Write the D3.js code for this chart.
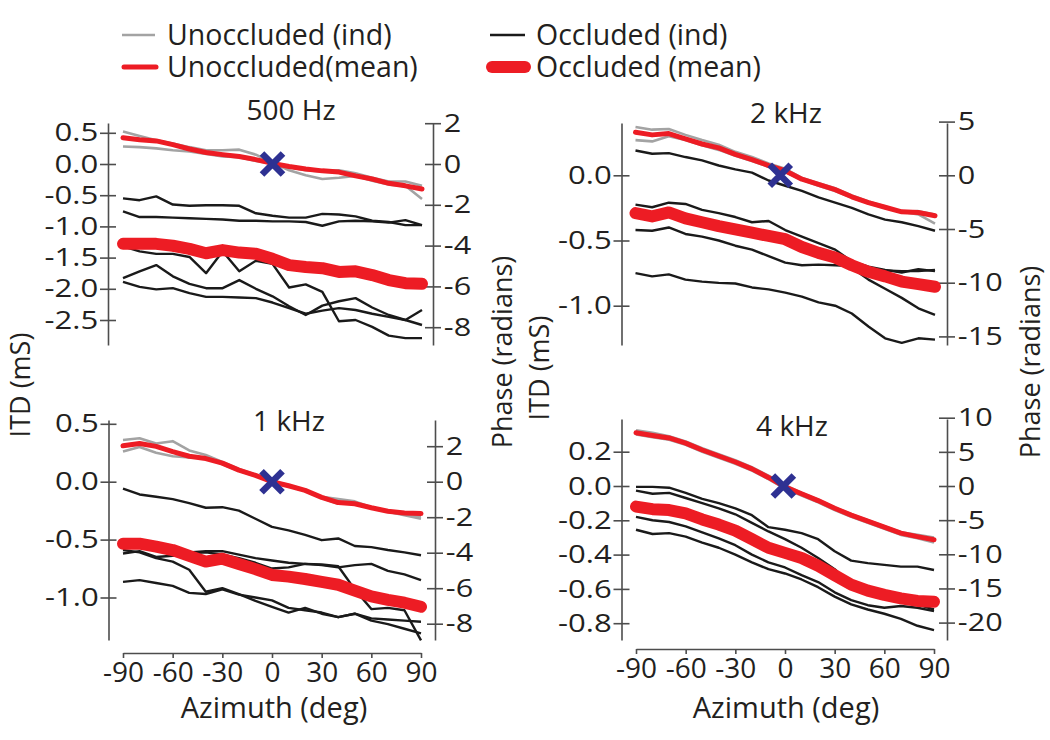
<!DOCTYPE html>
<html>
<head>
<meta charset="utf-8">
<script src="https://cdn.jsdelivr.net/npm/d3@7"></script>
<style>
  body { margin: 0; background: #fff; }
  text { font-family: "Open Sans", sans-serif; fill: #231f20; }
</style>
</head>
<body>
<div id="chart"></div>
<script>
// azimuth samples (deg) shared by every trace
const azimuth = [-90, -80, -70, -60, -50, -40, -30, -20, -10, 0, 10, 20, 30, 40, 50, 60, 70, 80, 90];
const xTicks = [-90, -60, -30, 0, 30, 60, 90];

// ---- 500 Hz (ITD, ms)
const unoccInd500 = [
  [0.52, 0.45, 0.38, 0.33, 0.27, 0.22, 0.22, 0.23, 0.15, 0.02, -0.10, -0.18, -0.24, -0.22, -0.19, -0.27, -0.33, -0.35, -0.56],
  [0.28, 0.27, 0.25, 0.22, 0.20, 0.16, 0.12, 0.11, 0.05, 0.01, -0.05, -0.10, -0.12, -0.10, -0.15, -0.22, -0.28, -0.28, -0.35]
];
const unoccMean500 = [0.42, 0.39, 0.37, 0.31, 0.24, 0.185, 0.15, 0.12, 0.07, 0.01, -0.04, -0.08, -0.11, -0.13, -0.19, -0.24, -0.31, -0.35, -0.40];
const occInd500 = [
  [-0.55, -0.58, -0.52, -0.65, -0.67, -0.66, -0.66, -0.67, -0.79, -0.83, -0.86, -0.86, -0.80, -0.81, -0.84, -0.91, -0.93, -0.98, -0.98],
  [-0.76, -0.85, -0.85, -0.86, -0.87, -0.88, -0.89, -0.91, -0.91, -0.92, -0.92, -0.93, -0.99, -0.92, -0.91, -0.92, -0.94, -0.90, -0.98],
  [-1.32, -1.40, -1.44, -1.44, -1.49, -1.75, -1.40, -1.72, -1.55, -1.60, -1.98, -1.93, -2.05, -2.52, -2.50, -2.61, -2.75, -2.79, -2.79],
  [-1.83, -1.72, -1.62, -1.80, -1.92, -1.99, -1.99, -1.86, -2.00, -2.12, -2.28, -2.42, -2.27, -2.20, -2.15, -2.30, -2.42, -2.50, -2.58],
  [-1.89, -1.97, -2.01, -1.99, -2.07, -2.13, -2.13, -2.14, -2.15, -2.22, -2.31, -2.40, -2.35, -2.31, -2.34, -2.40, -2.45, -2.50, -2.34]
];
const occMean500 = [-1.28, -1.28, -1.28, -1.31, -1.36, -1.43, -1.38, -1.42, -1.44, -1.52, -1.62, -1.65, -1.67, -1.73, -1.72, -1.78, -1.86, -1.91, -1.92];
const itdTicks500 = [0.5, 0, -0.5, -1, -1.5, -2, -2.5];
const phaseTicks500 = [2, 0, -2, -4, -6, -8];

// ---- 2 kHz
const unoccInd2k = [
  [0.37, 0.35, 0.355, 0.31, 0.27, 0.235, 0.18, 0.14, 0.09, 0.05, -0.02, -0.06, -0.10, -0.155, -0.20, -0.24, -0.28, -0.30, -0.37],
  [0.27, 0.26, 0.30, 0.27, 0.23, 0.195, 0.15, 0.11, 0.065, 0.025, -0.035, -0.08, -0.12, -0.17, -0.215, -0.25, -0.28, -0.275, -0.30]
];
const unoccMean2k = [0.33, 0.31, 0.32, 0.28, 0.24, 0.21, 0.16, 0.12, 0.075, 0.035, -0.03, -0.07, -0.11, -0.165, -0.21, -0.245, -0.28, -0.285, -0.31];
const occInd2k = [
  [0.19, 0.165, 0.17, 0.14, 0.115, 0.075, 0.045, 0.02, -0.04, -0.08, -0.12, -0.17, -0.21, -0.25, -0.30, -0.34, -0.36, -0.39, -0.425],
  [-0.225, -0.245, -0.21, -0.22, -0.265, -0.29, -0.32, -0.36, -0.35, -0.42, -0.47, -0.52, -0.57, -0.66, -0.70, -0.725, -0.745, -0.72, -0.735],
  [-0.42, -0.425, -0.40, -0.45, -0.47, -0.50, -0.54, -0.57, -0.62, -0.67, -0.69, -0.685, -0.69, -0.695, -0.71, -0.73, -0.735, -0.735, -0.725],
  [-0.28, -0.32, -0.28, -0.34, -0.36, -0.38, -0.42, -0.45, -0.46, -0.50, -0.55, -0.60, -0.64, -0.71, -0.80, -0.87, -0.94, -1.02, -1.07],
  [-0.75, -0.775, -0.76, -0.80, -0.815, -0.825, -0.83, -0.86, -0.875, -0.90, -0.93, -0.975, -1.00, -1.06, -1.16, -1.25, -1.285, -1.25, -1.26]
];
const occMean2k = [-0.29, -0.315, -0.285, -0.33, -0.36, -0.39, -0.415, -0.44, -0.465, -0.49, -0.55, -0.595, -0.63, -0.69, -0.74, -0.775, -0.815, -0.835, -0.855];
const itdTicks2k = [0, -0.5, -1];
const phaseTicks2k = [5, 0, -5, -10, -15];

// ---- 1 kHz
const unoccInd1k = [
  [0.36, 0.375, 0.33, 0.35, 0.27, 0.23, 0.17, 0.11, 0.06, 0.005, -0.03, -0.075, -0.13, -0.15, -0.17, -0.22, -0.26, -0.29, -0.32],
  [0.26, 0.30, 0.25, 0.22, 0.21, 0.21, 0.15, 0.095, 0.05, -0.005, -0.04, -0.08, -0.14, -0.19, -0.18, -0.23, -0.26, -0.28, -0.30]
];
const unoccMean1k = [0.31, 0.33, 0.305, 0.26, 0.22, 0.20, 0.16, 0.10, 0.055, 0.0, -0.035, -0.075, -0.135, -0.18, -0.19, -0.225, -0.255, -0.27, -0.275];
const occInd1k = [
  [-0.06, -0.11, -0.13, -0.15, -0.185, -0.225, -0.22, -0.25, -0.32, -0.39, -0.42, -0.46, -0.505, -0.49, -0.555, -0.565, -0.59, -0.61, -0.635],
  [-0.54, -0.56, -0.58, -0.60, -0.61, -0.60, -0.60, -0.63, -0.66, -0.68, -0.70, -0.71, -0.72, -0.74, -0.72, -0.71, -0.77, -0.80, -0.85],
  [-0.59, -0.61, -0.66, -0.69, -0.76, -0.95, -0.92, -0.97, -1.03, -1.08, -1.13, -1.09, -1.14, -1.17, -1.14, -1.20, -1.23, -1.27, -1.31],
  [-0.62, -0.60, -0.65, -0.64, -0.62, -0.61, -0.63, -0.66, -0.70, -0.75, -0.74, -0.71, -0.715, -0.73, -0.93, -1.10, -1.09, -1.11, -1.37],
  [-0.865, -0.85, -0.875, -0.90, -0.96, -0.97, -0.93, -0.975, -1.00, -1.025, -1.09, -1.11, -1.13, -1.17, -1.14, -1.18, -1.19, -1.20, -1.21]
];
const occMean1k = [-0.535, -0.535, -0.56, -0.59, -0.64, -0.69, -0.665, -0.71, -0.755, -0.805, -0.82, -0.84, -0.865, -0.89, -0.94, -0.99, -1.02, -1.045, -1.08];
const itdTicks1k = [0.5, 0, -0.5, -1];
const phaseTicks1k = [2, 0, -2, -4, -6, -8];

// ---- 4 kHz
const unoccInd4k = [
  [0.325, 0.31, 0.29, 0.26, 0.22, 0.185, 0.15, 0.11, 0.06, 0.005, -0.04, -0.08, -0.125, -0.165, -0.20, -0.235, -0.27, -0.285, -0.30],
  [0.30, 0.285, 0.27, 0.24, 0.20, 0.165, 0.13, 0.09, 0.04, -0.015, -0.055, -0.095, -0.14, -0.18, -0.215, -0.25, -0.285, -0.305, -0.33]
];
const unoccMean4k = [0.31, 0.295, 0.28, 0.25, 0.21, 0.175, 0.14, 0.10, 0.05, -0.005, -0.045, -0.085, -0.13, -0.17, -0.205, -0.24, -0.275, -0.295, -0.313];
const occInd4k = [
  [-0.005, -0.005, -0.01, -0.04, -0.075, -0.10, -0.13, -0.17, -0.24, -0.255, -0.275, -0.31, -0.38, -0.435, -0.45, -0.46, -0.47, -0.47, -0.49],
  [-0.027, -0.045, -0.04, -0.07, -0.10, -0.13, -0.165, -0.215, -0.265, -0.31, -0.36, -0.42, -0.485, -0.575, -0.62, -0.645, -0.67, -0.69, -0.72],
  [-0.18, -0.20, -0.21, -0.235, -0.27, -0.305, -0.345, -0.40, -0.445, -0.475, -0.52, -0.56, -0.62, -0.665, -0.695, -0.71, -0.70, -0.71, -0.73],
  [-0.255, -0.28, -0.275, -0.295, -0.33, -0.36, -0.40, -0.445, -0.485, -0.51, -0.545, -0.59, -0.645, -0.69, -0.72, -0.745, -0.775, -0.815, -0.84]
];
const occMean4k = [-0.12, -0.135, -0.14, -0.16, -0.195, -0.225, -0.26, -0.31, -0.36, -0.39, -0.42, -0.465, -0.52, -0.575, -0.61, -0.635, -0.655, -0.67, -0.675];
const itdTicks4k = [0.2, 0, -0.2, -0.4, -0.6, -0.8];
const phaseTicks4k = [10, 5, 0, -5, -10, -15, -20];

// reference point (azimuth, ITD) marked with a cross
const crossPoints = [[0, 0], [-3, 0], [0, 0], [-1, 0]];

const legendLabels = ["Unoccluded (ind)", "Occluded (ind)", "Unoccluded(mean)", "Occluded (mean)"];

const colors = { gray: "#a3a3a3", black: "#1a1a1a", red: "#ed1c24", blue: "#2e3192", axis: "#4d4d4d" };

// pixel layout of the four panels
const panels = [
  { title: "500 Hz", unoccInd: unoccInd500, unoccMean: unoccMean500, occInd: occInd500, occMean: occMean500,
    itdTicks: itdTicks500, phaseTicks: phaseTicks500, cross: crossPoints[0],
    x0: 123, x1: 422, leftX: 108, rightX: 433, top: 123, bottom: 345, zeroY: 164, itdPx: 62.4, phasePx: 20.4,
    titleX: 291, titleY: 120, xAxisY: null },
  { title: "2 kHz", unoccInd: unoccInd2k, unoccMean: unoccMean2k, occInd: occInd2k, occMean: occMean2k,
    itdTicks: itdTicks2k, phaseTicks: phaseTicks2k, cross: crossPoints[1],
    x0: 635.5, x1: 935, leftX: 621.5, rightX: 947, top: 123, bottom: 345, zeroY: 175.3, itdPx: 130.4, phasePx: 10.74,
    titleX: 786, titleY: 123, xAxisY: null },
  { title: "1 kHz", unoccInd: unoccInd1k, unoccMean: unoccMean1k, occInd: occInd1k, occMean: occMean1k,
    itdTicks: itdTicks1k, phaseTicks: phaseTicks1k, cross: crossPoints[2],
    x0: 123, x1: 421, leftX: 108.5, rightX: 435, top: 420, bottom: 640, zeroY: 481.7, itdPx: 115.8, phasePx: 17.75,
    titleX: 289, titleY: 431, xAxisY: 653, xLabelX: 274 },
  { title: "4 kHz", unoccInd: unoccInd4k, unoccMean: unoccMean4k, occInd: occInd4k, occMean: occMean4k,
    itdTicks: itdTicks4k, phaseTicks: phaseTicks4k, cross: crossPoints[3],
    x0: 636, x1: 934, leftX: 621.5, rightX: 947, top: 419, bottom: 640, zeroY: 486, itdPx: 171.5, phasePx: 6.83,
    titleX: 792, titleY: 436, xAxisY: 649, xLabelX: 786 }
];

const width = 1050, height = 740;
const svg = d3.select("#chart").append("svg").attr("width", width).attr("height", height);

function styleAxis(g, size) {
  g.attr("font-family", null).attr("font-size", size).attr("color", colors.axis);
  g.select(".domain").attr("stroke-width", 1.6);
  g.selectAll(".tick line").attr("stroke-width", 1.6);
  g.selectAll(".tick text").style("fill", "#231f20");
}

panels.forEach((p) => {
  const x = d3.scaleLinear().domain([-90, 90]).range([p.x0, p.x1]);
  const yItd = d3.scaleLinear()
    .domain([(p.zeroY - p.bottom) / p.itdPx, (p.zeroY - p.top) / p.itdPx])
    .range([p.bottom, p.top]);
  const yPhase = d3.scaleLinear()
    .domain([(p.zeroY - p.bottom) / p.phasePx, (p.zeroY - p.top) / p.phasePx])
    .range([p.bottom, p.top]);

  // left ITD axis, ticks crossing the line
  const gl = svg.append("g")
    .attr("transform", `translate(${p.leftX},0)`)
    .call(d3.axisLeft(yItd).tickValues(p.itdTicks).tickSize(8).tickSizeOuter(0).tickPadding(0)
      .tickFormat((d) => d.toFixed(1)));
  styleAxis(gl, 25.5);
  gl.selectAll(".tick line").attr("x1", 8);
  gl.selectAll(".tick text").attr("transform", "scale(1.22,1)");

  // right phase axis
  const gr = svg.append("g")
    .attr("transform", `translate(${p.rightX},0)`)
    .call(d3.axisRight(yPhase).tickValues(p.phaseTicks).tickSize(8).tickSizeOuter(0).tickPadding(1)
      .tickFormat((d) => String(d)));
  styleAxis(gr, 25.5);
  gr.selectAll(".tick line").attr("x1", -8);
  gr.selectAll(".tick text").attr("transform", "scale(1.2,1)");

  // bottom azimuth axis (lower panels only)
  if (p.xAxisY) {
    const gb = svg.append("g")
      .attr("transform", `translate(0,${p.xAxisY})`)
      .call(d3.axisBottom(x).tickValues(xTicks).tickSize(5).tickSizeOuter(0).tickPadding(4)
        .tickFormat((d) => String(d)));
    styleAxis(gb, 28);

    svg.append("text")
      .attr("x", p.xLabelX)
      .attr("y", 718)
      .attr("text-anchor", "middle")
      .attr("font-size", 29)
      .text("Azimuth (deg)");
  }

  const line = d3.line()
    .x((d, i) => x(azimuth[i]))
    .y((d) => yItd(d));

  const plot = svg.append("g");

  plot.selectAll(".unocc-ind")
    .data(p.unoccInd)
    .enter()
    .append("path")
    .attr("class", "unocc-ind")
    .attr("d", line)
    .attr("fill", "none")
    .attr("stroke", colors.gray)
    .attr("stroke-width", 2.6)
    .attr("stroke-linejoin", "round");

  plot.selectAll(".occ-ind")
    .data(p.occInd)
    .enter()
    .append("path")
    .attr("class", "occ-ind")
    .attr("d", line)
    .attr("fill", "none")
    .attr("stroke", colors.black)
    .attr("stroke-width", 2.4)
    .attr("stroke-linejoin", "round");

  plot.append("path")
    .attr("d", line(p.unoccMean))
    .attr("fill", "none")
    .attr("stroke", colors.red)
    .attr("stroke-width", 5)
    .attr("stroke-linecap", "round")
    .attr("stroke-linejoin", "round");

  plot.append("path")
    .attr("d", line(p.occMean))
    .attr("fill", "none")
    .attr("stroke", colors.red)
    .attr("stroke-width", 12)
    .attr("stroke-linecap", "round")
    .attr("stroke-linejoin", "round");

  // blue cross at the reference point
  const cx = x(p.cross[0]), cy = yItd(p.cross[1]), s = 10.5;
  plot.append("path")
    .attr("d", `M${cx - s},${cy - s}L${cx + s},${cy + s}M${cx - s},${cy + s}L${cx + s},${cy - s}`)
    .attr("stroke", colors.blue)
    .attr("stroke-width", 6.5);

  svg.append("text")
    .attr("x", p.titleX)
    .attr("y", p.titleY)
    .attr("text-anchor", "middle")
    .attr("font-size", 28)
    .text(p.title);
});

// axis titles
const axisTitles = [
  { text: "ITD (mS)", x: 30, y: 385 },
  { text: "Phase (radians)", x: 512, y: 352 },
  { text: "ITD (mS)", x: 549, y: 368 },
  { text: "Phase (radians)", x: 1040, y: 362 }
];
svg.selectAll(".axis-title")
  .data(axisTitles)
  .enter()
  .append("text")
  .attr("class", "axis-title")
  .attr("transform", (d) => `translate(${d.x},${d.y}) rotate(-90)`)
  .attr("text-anchor", "middle")
  .attr("font-size", 27)
  .text((d) => d.text);

// legend
const legend = svg.append("g");
const legendItems = [
  { label: legendLabels[0], color: colors.gray, w: 2.6, x: 122, len: 33, y: 35 },
  { label: legendLabels[1], color: colors.black, w: 2.6, x: 490, len: 35, y: 35 },
  { label: legendLabels[2], color: colors.red, w: 5, x: 124, len: 32, y: 67, cap: "round" },
  { label: legendLabels[3], color: colors.red, w: 12, x: 492, len: 33, y: 67, cap: "round" }
];
legendItems.forEach((d) => {
  legend.append("line")
    .attr("x1", d.x).attr("x2", d.x + d.len)
    .attr("y1", d.y).attr("y2", d.y)
    .attr("stroke", d.color)
    .attr("stroke-width", d.w)
    .attr("stroke-linecap", d.cap || "butt");
  legend.append("text")
    .attr("x", d.x < 300 ? 167 : 536)
    .attr("y", d.y + 10)
    .attr("font-size", 28.5)
    .text(d.label);
});
</script>
</body>
</html>
